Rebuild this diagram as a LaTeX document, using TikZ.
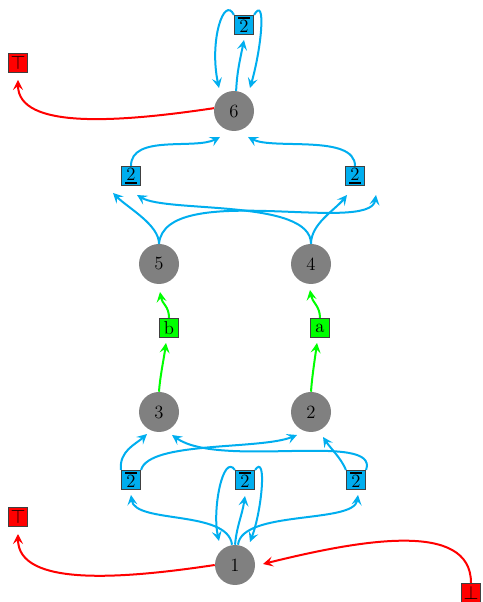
\documentclass[tikz,border=0pt]{standalone}
\usetikzlibrary{arrows.meta}
\definecolor{boxcyan}{RGB}{0,174,239}
\definecolor{nodegray}{RGB}{128,128,128}
\definecolor{lgreen}{RGB}{0,255,0}
\definecolor{lred}{RGB}{255,0,0}
\newcommand\myfs{\fontsize{14}{16}\selectfont}
\newcommand\otwo{\vbox{\hrule height 1.6pt\kern 0.8pt\hbox{\kern0.8pt 2\kern0.8pt}}}
\newcommand\utwo{\vbox{\hbox{\kern0.8pt 2\kern0.8pt}\kern 0.6pt\hrule height 1.6pt}}
\tikzset{
  cnode/.style={circle, fill=nodegray, minimum size=30pt, inner sep=0pt, font=\myfs},
  sqbox/.style={rectangle, draw=black!75, line width=0.6pt, minimum size=14.5pt, inner sep=0.5pt, font=\myfs},
  cbox/.style={sqbox, fill=boxcyan},
  rbox/.style={sqbox, fill=lred},
  gbox/.style={sqbox, fill=lgreen},
  tipstyle/.style={-{Stealth[length=7.5pt,width=7.5pt,inset=3pt]}},
  cedge/.style={draw=boxcyan, line width=1.5pt, tipstyle},
  gedge/.style={draw=lgreen, line width=1.5pt, tipstyle},
  redge/.style={draw=lred, line width=1.5pt, tipstyle},
}
\begin{document}
\begin{tikzpicture}[x=0.75pt,y=0.75pt]
\useasboundingbox (0,0) rectangle (482,602);
% nodes
\node[cnode] (n6) at (234,491) {6};
\node[cbox] (tb) at (244,577) {\otwo};
\node[rbox] (T1) at (18,539) {$\top$};
\node[cbox] (u1) at (131,426) {\utwo};
\node[cbox] (u2) at (355,426) {\utwo};
\node[cnode] (n5) at (159,338) {5};
\node[cnode] (n4) at (311,338) {4};
\node[gbox] (b) at (169,274) {b};
\node[gbox] (a) at (320,274) {a};
\node[cnode] (n3) at (159,190) {3};
\node[cnode] (n2) at (311,190) {2};
\node[cbox] (o1) at (131,122) {\otwo};
\node[cbox] (o2) at (245,122) {\otwo};
\node[cbox] (o3) at (356,122) {\otwo};
\node[cnode] (n1) at (235,37) {1};
\node[rbox] (T2) at (18,85) {$\top$};
\node[rbox] (Bot) at (471,9) {$\bot$};
% red edges
\draw[redge] (n6.172) .. controls +(-94,-14) and +(0,-50) .. ([shift={(0,-17)}]T1.center);
\draw[redge] (n1.west) .. controls +(-93,-14) and +(0,-53) .. ([shift={(0,-17)}]T2.center);
\draw[redge] (Bot.north) .. controls +(0,63) and +(97,24) .. ([shift={(28,1)}]n1.center);
% top
\draw[cedge] (n6.84) .. controls +(1,20) and +(-4,-20) .. ([shift={(0,-15)}]tb.center);
\draw[cedge] (tb.north west) .. controls +(-10,20) and +(-10,47) .. ([shift={(-15,23)}]n6.center);
\draw[cedge] (tb.north east) .. controls +(12,20) and +(12,42) .. ([shift={(16,23)}]n6.center);
\draw[cedge] (u1.north) .. controls +(0,32) and +(-25,-13) .. ([shift={(-14,-26)}]n6.center);
\draw[cedge] (u2.north) .. controls +(0,32) and +(25,-13) .. ([shift={(14,-26)}]n6.center);
% middle upper
\draw[cedge] (n5.north) .. controls +(0,19) and +(15,-15) .. ([shift={(-18,-17)}]u1.center);
\draw[cedge] (n5.north) .. controls +(6,64) and +(-6,-40) .. ([shift={(21,-19)}]u2.center);
\draw[cedge] (n4.north) .. controls +(0,20) and +(-12,-15) .. ([shift={(-8,-19)}]u2.center);
\draw[cedge] (n4.north) .. controls +(0,45) and +(30,-18) .. ([shift={(6,-19)}]u1.center);
% green
\draw[gedge] (n3.north) .. controls +(1,15) and +(-2,-15) .. ([shift={(-3,-15)}]b.center);
\draw[gedge] (b.north) .. controls +(0,12) and +(2,-12) .. ([shift={(1,-28)}]n5.center);
\draw[gedge] (n2.north) .. controls +(1,15) and +(-2,-15) .. ([shift={(-3,-15)}]a.center);
\draw[gedge] (a.north) .. controls +(0,12) and +(2,-12) .. ([shift={(-1,-26)}]n4.center);
% bottom
\draw[cedge] ([shift={(-3,0)}]n1.north) .. controls +(-4,35) and +(4,-29) .. ([shift={(0,-15)}]o1.center);
\draw[cedge] (n1.north) .. controls +(2,20) and +(-3,-20) .. ([shift={(0,-16)}]o2.center);
\draw[cedge] ([shift={(3,0)}]n1.north) .. controls +(4,35) and +(-4,-29) .. ([shift={(2,-15)}]o3.center);
\draw[cedge] (o2.north west) .. controls +(-12,17) and +(-7,31) .. ([shift={(-16,24)}]n1.center);
\draw[cedge] (o2.north east) .. controls +(12,17) and +(12,32) .. ([shift={(15,23)}]n1.center);
\draw[cedge] (o1.north west) .. controls +(-2,19) and +(-11,-10) .. ([shift={(-12,-22)}]n3.center);
\draw[cedge] (o1.north east) .. controls +(8,29) and +(-37,-15) .. ([shift={(-14,-23)}]n2.center);
\draw[cedge] (o3.north west) .. controls +(-5,12) and +(8,-12) .. ([shift={(12,-25)}]n2.center);
\draw[cedge] (o3.north east) .. controls +(14,39) and +(48,-34) .. ([shift={(13,-23)}]n3.center);
\end{tikzpicture}
\end{document}
